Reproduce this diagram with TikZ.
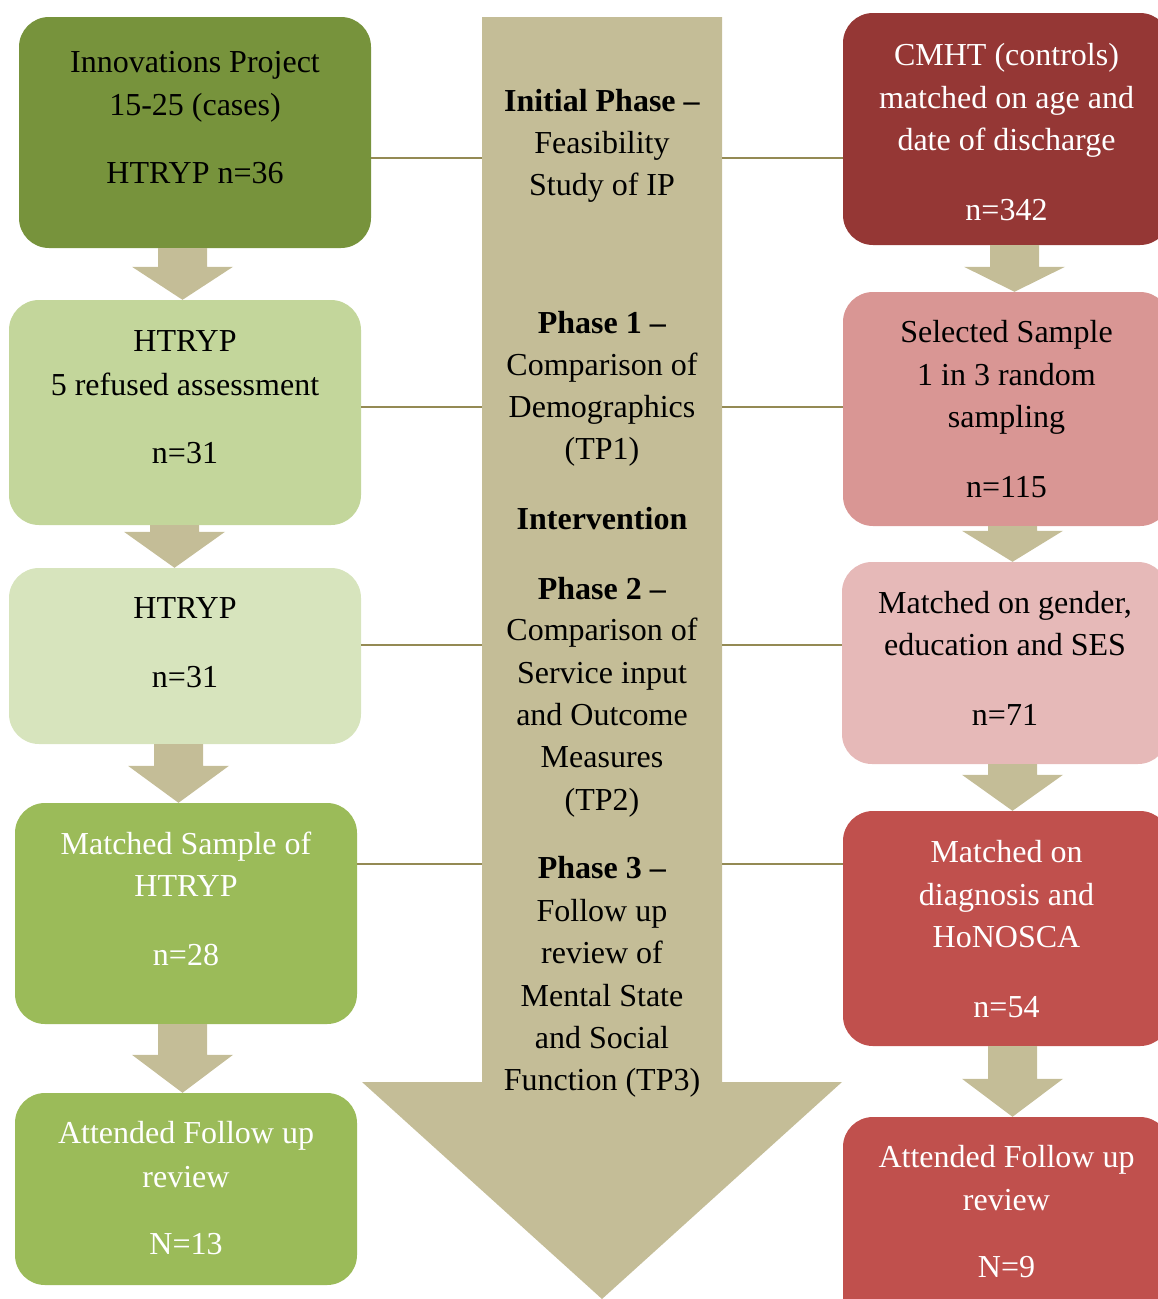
\documentclass[tikz,border=0pt]{standalone}
\usepackage{fontspec}
\setmainfont{Liberation Serif}
\usetikzlibrary{calc}

\definecolor{beigefill}{HTML}{C4BD97}
\definecolor{linkcol}{HTML}{948A54}
\definecolor{gA}{HTML}{77933C}
\definecolor{gB}{HTML}{C3D69B}
\definecolor{gC}{HTML}{D7E4BD}
\definecolor{gD}{HTML}{9BBB59}
\definecolor{rA}{HTML}{953735}
\definecolor{rB}{HTML}{D99694}
\definecolor{rC}{HTML}{E6B9B8}
\definecolor{rD}{HTML}{C0504D}

% block arrow between two stacked boxes:
% #1 shaft centre x, #2 head length, #3 upper box, #4 lower box
\newcommand\flowarrow[4]{%
  \fill[beigefill] let \p1=(#3.south), \p2=(#4.north) in
    (#1pt-24.5pt,\y1) -- (#1pt+24.5pt,\y1) -- (#1pt+24.5pt,\y2+#2pt)
    -- (#1pt+50.5pt,\y2+#2pt) -- (#1pt,\y2) -- (#1pt-50.5pt,\y2+#2pt)
    -- (#1pt-24.5pt,\y2+#2pt) -- cycle;}

\tikzset{
  box/.style={rectangle, rounded corners=30pt, draw=none, inner sep=0pt},
  txt/.style={anchor=base, inner sep=0pt, font=\fontsize{32}{38}\selectfont},
  wtxt/.style={txt, text=white},
  link/.style={draw=linkcol, line width=1.6pt},
}

\begin{document}
\begin{tikzpicture}[x=1pt, y=-1pt]
\useasboundingbox (0,0) rectangle (1158,1299);
\clip (0,0) rectangle (1158,1299);

% central phase arrow
\coordinate (shaftTL) at (482,17);
\coordinate (shaftTR) at (722,17);
\coordinate (tip) at (602,1299);
\fill[beigefill] (shaftTL) -- (shaftTR) -- (722,1082) -- (842,1082) -- (tip)
  -- (362,1082) -- (482,1082) -- cycle;

% left column (cases)
\node[box, fill=gA, minimum width=352pt, minimum height=231pt] (L1) at (195,132.5) {};
\node[box, fill=gB, minimum width=352pt, minimum height=225pt] (L2) at (185,412.5) {};
\node[box, fill=gC, minimum width=352pt, minimum height=176pt] (L3) at (185,656) {};
\node[box, fill=gD, minimum width=342pt, minimum height=221pt] (L4) at (186,913.5) {};
\node[box, fill=gD, minimum width=342pt, minimum height=192pt] (L5) at (186,1189) {};

% right column (controls)
\node[box, fill=rA, minimum width=327pt, minimum height=232pt] (R1) at (1006.5,129) {};
\node[box, fill=rB, minimum width=327pt, minimum height=234pt] (R2) at (1006.5,409) {};
\node[box, fill=rC, minimum width=326pt, minimum height=202pt] (R3) at (1005,663) {};
\node[box, fill=rD, minimum width=327pt, minimum height=235pt] (R4) at (1006.5,928.5) {};
\node[box, fill=rD, minimum width=327pt, minimum height=223pt] (R5) at (1006.5,1228.5) {};

% block arrows down each column
\flowarrow{182.5}{33}{L1}{L2}
\flowarrow{174.5}{36}{L2}{L3}
\flowarrow{178.5}{37}{L3}{L4}
\flowarrow{182.5}{38}{L4}{L5}
\flowarrow{1014.5}{25}{R1}{R2}
\flowarrow{1012.5}{31}{R2}{R3}
\flowarrow{1012.5}{36}{R3}{R4}
\flowarrow{1012.5}{38}{R4}{R5}

% links from the boxes to the phase arrow
\draw[link] (L1.east |- 0,158) -- (shaftTL |- 0,158);
\draw[link] (R1.west |- 0,158) -- (shaftTR |- 0,158);
\draw[link] (L2.east |- 0,407) -- (shaftTL |- 0,407);
\draw[link] (R2.west |- 0,407) -- (shaftTR |- 0,407);
\draw[link] (L3.east |- 0,645) -- (shaftTL |- 0,645);
\draw[link] (R3.west |- 0,645) -- (shaftTR |- 0,645);
\draw[link] (L4.east |- 0,864) -- (shaftTL |- 0,864);
\draw[link] (R4.west |- 0,864) -- (shaftTR |- 0,864);

% left texts
\node[txt] (l1a) at (195,72) {Innovations Project};
\node[txt] (l1b) at (195,115) {15-25 (cases)};
\node[txt] (l1c) at (195,183) {HTRYP n=36};
\node[txt] (l2a) at (185,351) {HTRYP};
\node[txt] (l2b) at (185,395) {5 refused assessment};
\node[txt] (l2c) at (185,463) {n=31};
\node[txt] (l3a) at (185,618) {HTRYP};
\node[txt] (l3b) at (185,687) {n=31};
\node[wtxt] (l4a) at (186,854) {Matched Sample of};
\node[wtxt] (l4b) at (186,896) {HTRYP};
\node[wtxt] (l4c) at (186,965) {n=28};
\node[wtxt] (l5a) at (186,1143) {Attended Follow up};
\node[wtxt] (l5b) at (186,1187) {review};
\node[wtxt] (l5c) at (186,1254) {N=13};

% phase texts
\node[txt] (c1a) at (602,111) {\textbf{Initial Phase –}};
\node[txt] (c1b) at (602,153) {Feasibility};
\node[txt] (c1c) at (602,195) {Study of IP};
\node[txt] (c2a) at (602,333) {\textbf{Phase 1 –}};
\node[txt] (c2b) at (602,375) {Comparison of};
\node[txt] (c2c) at (602,417) {Demographics};
\node[txt] (c2d) at (602,459) {(TP1)};
\node[txt] (c3a) at (602,529) {\textbf{Intervention}};
\node[txt] (c4a) at (602,599) {\textbf{Phase 2 –}};
\node[txt] (c4b) at (602,640) {Comparison of};
\node[txt] (c4c) at (602,683) {Service input};
\node[txt] (c4d) at (602,725) {and Outcome};
\node[txt] (c4e) at (602,767) {Measures};
\node[txt] (c4f) at (602,810) {(TP2)};
\node[txt] (c5a) at (602,878) {\textbf{Phase 3 –}};
\node[txt] (c5b) at (602,921) {Follow up};
\node[txt] (c5c) at (602,963) {review of};
\node[txt] (c5d) at (602,1006) {Mental State};
\node[txt] (c5e) at (602,1048) {and Social};
\node[txt] (c5f) at (602,1090) {Function (TP3)};

% right texts
\node[wtxt] (r1a) at (1006.5,65) {CMHT (controls)};
\node[wtxt] (r1b) at (1006.5,108) {matched on age and};
\node[wtxt] (r1c) at (1006.5,150) {date of discharge};
\node[wtxt] (r1d) at (1006.5,220) {n=342};
\node[txt] (r2a) at (1006.5,342) {Selected Sample};
\node[txt] (r2b) at (1006.5,385) {1 in 3 random};
\node[txt] (r2c) at (1006.5,427) {sampling};
\node[txt] (r2d) at (1006.5,497) {n=115};
\node[txt] (r3a) at (1005,613) {Matched on gender,};
\node[txt] (r3b) at (1005,655) {education and SES};
\node[txt] (r3c) at (1005,725) {n=71};
\node[wtxt] (r4a) at (1006.5,862) {Matched on};
\node[wtxt] (r4b) at (1006.5,905) {diagnosis and};
\node[wtxt] (r4c) at (1006.5,947) {HoNOSCA};
\node[wtxt] (r4d) at (1006.5,1017) {n=54};
\node[wtxt] (r5a) at (1006.5,1167) {Attended Follow up};
\node[wtxt] (r5b) at (1006.5,1210) {review};
\node[wtxt] (r5c) at (1006.5,1277) {N=9};
\end{tikzpicture}
\end{document}
